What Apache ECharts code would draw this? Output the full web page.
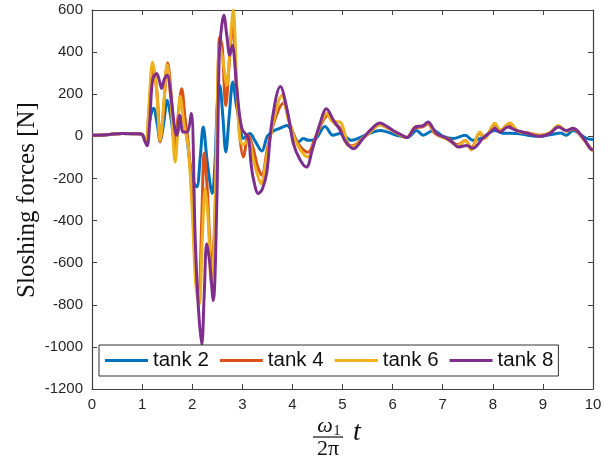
<!DOCTYPE html>
<html>
<head>
<meta charset="utf-8">
<script src="https://cdn.jsdelivr.net/npm/echarts@6/dist/echarts.min.js"></script>
<style>html,body{margin:0;padding:0;background:#fff}#c{width:612px;height:462px}</style>
</head>
<body>
<div id="c"></div>
<script>
// ---- data ----
var seriesNames = ['tank 2', 'tank 4', 'tank 6', 'tank 8'];
var xTicks = [0,1,2,3,4,5,6,7,8,9,10];
var yTicks = [-1200,-1000,-800,-600,-400,-200,0,200,400,600];

var t2 = [0,0.3,0.6,0.9,1.0,1.08,1.13,1.23,1.3,1.36,1.43,1.5,1.58,1.66,1.74,1.82,1.9,2.0,2.09,2.16,2.22,2.3,2.4,2.46,2.5,2.55,2.61,2.67,2.74,2.81,2.88,2.95,3.02,3.15,3.25,3.39,3.5,3.62,3.75,3.89,4.0,4.12,4.22,4.32,4.45,4.65,4.81,4.95,5.18,5.38,5.55,5.75,5.9,6.08,6.3,6.48,6.61,6.81,7.01,7.21,7.45,7.6,7.8,8.04,8.2,8.47,8.7,8.94,9.2,9.35,9.47,9.6,9.87,10];
var f2 = [5,8,14,12,8,-25,50,133,60,-20,60,170,80,-43,50,100,-20,-200,-240,-100,44,-120,-271,-100,150,242,100,-74,100,258,150,68,-10,14,-20,-70,0,25,38,52,20,-27,-10,-19,-15,47,5,14,-19,-3,15,28,20,5,-5,28,5,28,0,-10,5,-19,-5,28,15,14,5,0,10,16,5,28,-10,-15];

var t4 = [0,0.3,0.6,0.9,1.0,1.08,1.13,1.22,1.3,1.36,1.42,1.51,1.58,1.66,1.72,1.79,1.86,1.92,2.0,2.07,2.13,2.19,2.24,2.3,2.39,2.45,2.5,2.55,2.6,2.67,2.74,2.81,2.88,2.95,3.02,3.12,3.22,3.3,3.39,3.5,3.65,3.82,3.95,4.1,4.31,4.45,4.6,4.71,4.85,4.95,5.1,5.2,5.4,5.55,5.75,5.9,6.05,6.28,6.45,6.6,6.71,6.82,6.95,7.1,7.3,7.45,7.57,7.74,7.84,8.04,8.15,8.3,8.5,8.67,8.94,9.14,9.31,9.47,9.6,9.8,9.95,10];
var f4 = [5,8,14,12,8,-30,100,330,200,-27,100,350,200,-75,100,226,80,-30,-300,-650,-770,-400,-80,-250,-628,-400,100,470,420,147,350,540,250,0,-98,5,-60,-140,-185,-60,80,157,60,-30,-76,-10,70,100,60,40,-40,-45,-10,20,55,40,20,-5,40,45,60,20,0,-10,-40,-20,-55,15,-5,55,25,55,25,18,5,15,48,25,35,-10,-55,-65];

var t6 = [0,0.3,0.6,0.9,1.0,1.08,1.13,1.21,1.29,1.36,1.43,1.5,1.58,1.66,1.72,1.76,1.84,1.92,2.0,2.07,2.14,2.2,2.26,2.32,2.38,2.44,2.5,2.55,2.62,2.69,2.76,2.82,2.88,2.95,3.02,3.12,3.22,3.3,3.37,3.5,3.65,3.79,3.92,4.1,4.31,4.45,4.58,4.69,4.8,4.95,5.1,5.2,5.4,5.55,5.75,5.9,6.05,6.28,6.45,6.6,6.71,6.82,6.95,7.1,7.3,7.45,7.57,7.74,7.84,8.04,8.15,8.34,8.5,8.7,8.94,9.14,9.31,9.47,9.6,9.8,9.95,10];
var f6 = [5,8,14,12,8,-30,120,353,220,-20,150,340,150,-122,60,190,50,-50,-350,-700,-800,-500,-250,-400,-700,-500,150,432,350,242,450,600,300,-10,-40,-20,-110,-180,-224,-80,100,195,80,-40,-98,-20,70,109,70,68,-30,-50,-10,20,55,40,20,-5,45,50,65,25,0,-15,-45,-20,-65,20,-10,62,30,63,25,15,5,18,52,25,38,-10,-60,-69];

var t8 = [0,0.3,0.6,0.9,1.0,1.05,1.1,1.15,1.21,1.29,1.36,1.39,1.44,1.5,1.58,1.65,1.69,1.75,1.82,1.9,1.98,2.06,2.12,2.19,2.24,2.29,2.35,2.42,2.49,2.54,2.59,2.63,2.69,2.75,2.8,2.89,2.99,3.12,3.17,3.22,3.32,3.4,3.49,3.59,3.76,3.9,4.02,4.15,4.28,4.4,4.55,4.68,4.82,4.95,5.05,5.22,5.41,5.55,5.75,5.9,6.01,6.15,6.28,6.45,6.6,6.71,6.8,6.88,7.08,7.2,7.31,7.48,7.6,7.8,7.95,8.04,8.14,8.3,8.47,8.67,8.94,9.14,9.31,9.47,9.6,9.81,9.94,10];
var f8 = [5,8,14,12,10,-20,-45,60,270,298,250,228,270,290,180,40,5,100,20,20,108,-485,-800,-990,-750,-510,-600,-780,-328,385,527,575,480,385,432,228,38,-10,-120,-200,-272,-250,-170,68,237,120,-35,-110,-146,-60,60,131,76,30,-20,-59,-10,28,63,45,28,10,-6,43,50,68,40,13,-10,-30,-51,-43,-57,-10,20,38,20,44,28,16,0,14,44,28,38,-10,-57,-65];

var colors = ['#0072BD', '#D95319', '#EDB120', '#7E2F8E'];
var times = [t2, t4, t6, t8];
var forces = [f2, f4, f6, f8];

function pairs(t, f) { return t.map(function (x, i) { return [x, f[i]]; }); }

var axisColor = '#404040';
var labelFont = { color: '#262626', fontSize: 15, fontFamily: 'Liberation Sans, Arial, sans-serif' };

var chart = echarts.init(document.getElementById('c'), null, { renderer: 'canvas' });

var series = seriesNames.map(function (name, i) {
  return {
    name: name,
    type: 'line',
    data: pairs(times[i], forces[i]),
    xAxisIndex: 0,
    yAxisIndex: 0,
    smooth: 0.35,
    symbol: 'none',
    showSymbol: false,
    clip: true,
    lineStyle: { color: colors[i], width: 3 },
    itemStyle: { color: colors[i] },
    z: 2 + i
  };
});

var option = {
  animation: false,
  backgroundColor: '#ffffff',
  grid: { left: 92, right: 19, top: 10, bottom: 73, show: false },
  xAxis: [
    {
      type: 'value', min: 0, max: 10, interval: 1, position: 'bottom',
      axisLine: { show: true, onZero: false, lineStyle: { color: axisColor, width: 1.2 } },
      axisTick: { show: true, inside: true, length: 5, lineStyle: { color: axisColor } },
      axisLabel: Object.assign({ margin: 8, formatter: function (v) { return xTicks.indexOf(v) >= 0 ? String(v) : ''; } }, labelFont),
      splitLine: { show: false }
    },
    {
      type: 'value', min: 0, max: 10, interval: 1, position: 'top',
      axisLine: { show: true, onZero: false, lineStyle: { color: axisColor, width: 1.2 } },
      axisTick: { show: true, inside: true, length: 5, lineStyle: { color: axisColor } },
      axisLabel: { show: false },
      splitLine: { show: false }
    }
  ],
  yAxis: [
    {
      type: 'value', min: -1200, max: 600, interval: 200, position: 'left',
      axisLine: { show: true, onZero: false, lineStyle: { color: axisColor, width: 1.2 } },
      axisTick: { show: true, inside: true, length: 5, lineStyle: { color: axisColor } },
      axisLabel: Object.assign({ margin: 9, formatter: function (v) { return yTicks.indexOf(v) >= 0 ? String(v) : ''; } }, labelFont),
      splitLine: { show: false }
    },
    {
      type: 'value', min: -1200, max: 600, interval: 200, position: 'right',
      axisLine: { show: true, onZero: false, lineStyle: { color: axisColor, width: 1.2 } },
      axisTick: { show: true, inside: true, length: 5, lineStyle: { color: axisColor } },
      axisLabel: { show: false },
      splitLine: { show: false }
    }
  ],
  legend: {
    data: seriesNames,
    left: 99, top: 345,
    orient: 'horizontal',
    itemWidth: 43, itemHeight: 14, itemGap: 11,
    padding: [5, 5, 5, 6],
    borderColor: '#333333', borderWidth: 1,
    backgroundColor: '#ffffff',
    icon: 'path://M0,5.5 L43,5.5 L43,8.5 L0,8.5 Z',
    textStyle: { color: '#111111', fontSize: 20.5, fontFamily: 'Liberation Sans, Arial, sans-serif' },
    z: 10
  },
  graphic: [
    { type: 'text', x: 27, y: 200, rotation: Math.PI / 2,
      style: { text: 'Sloshing forces [N]', fill: '#111', font: '25px "Liberation Serif", "Times New Roman", serif', align: 'center', verticalAlign: 'middle' } },
    { type: 'text', x: 325, y: 426,
      style: { text: 'ω', fill: '#111', font: 'italic 22px "Liberation Serif", serif', align: 'center', verticalAlign: 'middle' } },
    { type: 'text', x: 337, y: 431,
      style: { text: '1', fill: '#111', font: '14px "Liberation Serif", serif', align: 'center', verticalAlign: 'middle' } },
    { type: 'line', shape: { x1: 313, y1: 437, x2: 343, y2: 437 }, style: { stroke: '#111', lineWidth: 1.2 } },
    { type: 'text', x: 328, y: 449,
      style: { text: '2π', fill: '#111', font: '22px "Liberation Serif", serif', align: 'center', verticalAlign: 'middle' } },
    { type: 'text', x: 357, y: 433,
      style: { text: 't', fill: '#111', font: 'italic 28px "Liberation Serif", serif', align: 'center', verticalAlign: 'middle' } }
  ],
  series: series
};

chart.setOption(option);
</script>
</body>
</html>
